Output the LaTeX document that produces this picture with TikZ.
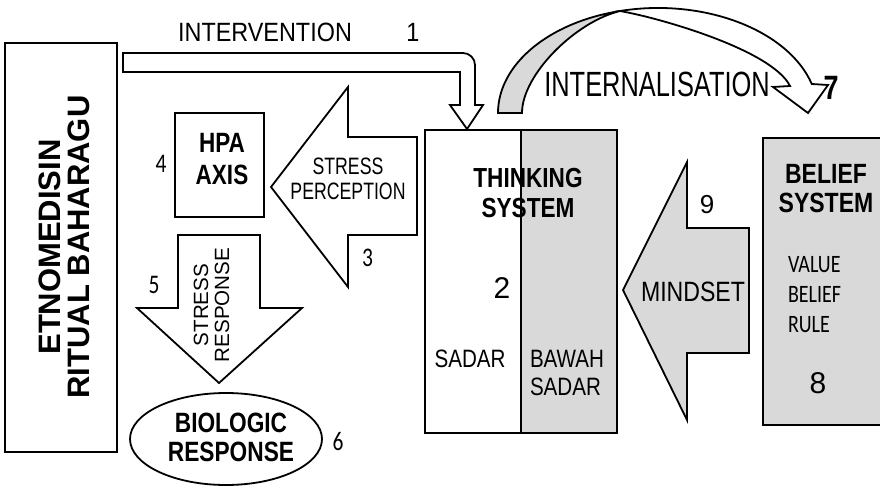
\documentclass[tikz,border=0pt]{standalone}
\usepackage{fontspec}
\setmainfont{Liberation Sans}
\newfontfamily\calfont{Carlito}
\usetikzlibrary{shapes.geometric}
\definecolor{shade}{RGB}{217,217,217}
\newcommand{\fsz}[2]{\fontsize{#1}{#2}\selectfont}

\begin{document}
\begin{tikzpicture}[x=1pt,y=-1pt,
  outline/.style={draw=black, line width=1.8pt, line join=miter},
  panel/.style={outline, fill=white, inner sep=0pt, outer sep=0pt},
  graypanel/.style={outline, fill=shade, inner sep=0pt, outer sep=0pt},
  lbl/.style={inner sep=0pt, outer sep=0pt, align=center},
  num/.style={lbl, font=\calfont\fsz{21.5}{21.5}, yscale=1.25},
]
\useasboundingbox (0,0) rectangle (880,486);
\clip (0,0) rectangle (880,486);
\fill[white] (0,0) rectangle (880,486);

% ---- boxes ----
\node[panel, minimum width=112pt, minimum height=409pt] (etno) at (61,247.5) {};
\node[lbl, rotate=90, font=\bfseries\fsz{31}{29}] (etnotext) at (64.5,247)
  {ETNOMEDISIN\\RITUAL BAHARAGU};

\node[panel, minimum width=89pt, minimum height=104pt] (hpa) at (219.5,165) {};
\node[lbl, font=\bfseries\fsz{22.5}{25.8}, yscale=1.24] (hpatext) at (222,159) {HPA\\AXIS};
\node[num] (n4) at (161,163.5) {4};

\node[panel, minimum width=96pt, minimum height=303pt] (sadar) at (473,281.5) {};
\node[graypanel, minimum width=96pt, minimum height=303pt] (bawah) at (569,281.5) {};

\node[graypanel, minimum width=127pt, minimum height=287pt] (belief) at (826.5,281.5) {};

\node[panel, ellipse, minimum width=192pt, minimum height=92pt] (bio) at (226,439) {};
\node[lbl, font=\bfseries\fsz{22.7}{23.6}, yscale=1.23] (biotext) at (231,437.5)
  {BIOLOGIC\\RESPONSE};
\node[num] (n6) at (338,441.5) {6};

% ---- intervention arrow (1) ----
\draw[outline, fill=white] (123,53) -- (463,53)
  .. controls (469.6,53) and (475,58.4) .. (475,65)
  -- (475,105) -- (483,105) -- (467,129) -- (450,105) -- (460,105)
  -- (460,72) -- (123,72) -- cycle;
\node[lbl, font=\fsz{23.4}{23.4}, yscale=1.13] (interv) at (265,32) {INTERVENTION};
\node[lbl, font=\fsz{23.4}{23.4}, yscale=1.13] (n1) at (413,32) {1};

% ---- stress perception arrow (3) ----
\draw[outline, fill=white] (271,187) -- (348,87) -- (348,137) -- (417,137)
  -- (417,235) -- (348,235) -- (348,287) -- cycle;
\node[lbl, font=\fsz{17.7}{18.7}, yscale=1.34] (percep) at (348,178.5)
  {STRESS\\PERCEPTION};
\node[num] (n3) at (367.5,258) {3};

% ---- stress response arrow (5) ----
\draw[outline, fill=white] (178,235) -- (260,235) -- (260,308) -- (302,308)
  -- (219,383) -- (137,308) -- (178,308) -- cycle;
\node[lbl, rotate=90, font=\fsz{20.6}{21}] (resp) at (211.5,305) {STRESS\\RESPONSE};
\node[num] (n5) at (154,285) {5};

% ---- thinking system (2) ----
\node[lbl, font=\bfseries\fsz{22.6}{24.6}, yscale=1.22] (think) at (528,193)
  {THINKING\\SYSTEM};
\node[lbl, font=\fsz{30}{30}] (n2) at (502,288) {2};
\node[lbl, font=\fsz{20.6}{20.6}, yscale=1.22] (sadartext) at (470,359) {SADAR};
\node[lbl, anchor=west, align=left, font=\fsz{20.6}{23}, yscale=1.22] (bawahtext)
  at (530,373) {BAWAH\\SADAR};

% ---- mindset arrow (9) ----
\draw[outline, fill=shade] (623,290) -- (687,162) -- (687,228) -- (749,228)
  -- (749,353) -- (687,353) -- (687,420) -- cycle;
\node[lbl, font=\fsz{23.1}{23.1}, yscale=1.21] (mind) at (693,292) {MINDSET};
\node[lbl, font=\fsz{26}{26}] (n9) at (707,205) {9};

% ---- belief system (8) ----
\node[lbl, font=\bfseries\fsz{23}{24}, yscale=1.21] (belieftext) at (826,188.5)
  {BELIEF\\SYSTEM};
\node[lbl, anchor=west, align=left, font=\calfont\fsz{20}{24}, yscale=1.25] (values)
  at (788,295) {VALUE\\BELIEF\\RULE};
\node[lbl, font=\fsz{30}{30}] (n8) at (818,383) {8};

% ---- internalisation arrow (7) ----
\coordinate (junc) at (620,11);
\draw[outline, fill=white] (junc)
  arc[start angle=256.26, end angle=343.97, x radius=160, y radius=105]
  -- (828,85) -- (808,113) -- (773,87) -- (790,86)
  .. controls (772,50) and (660,18) .. (junc) -- cycle;
\draw[outline, fill=shade] (498,113)
  arc[start angle=180, end angle=256.26, x radius=160, y radius=105]
  .. controls (575,22) and (522,75) .. (522,113) -- cycle;
\node[lbl, font=\fsz{25.4}{25.4}, yscale=1.38] (intern) at (657,84) {INTERNALISATION};
\node[lbl, font=\bfseries\fsz{27}{27}, yscale=1.25] (n7) at (831,88) {7};
\end{tikzpicture}
\end{document}
